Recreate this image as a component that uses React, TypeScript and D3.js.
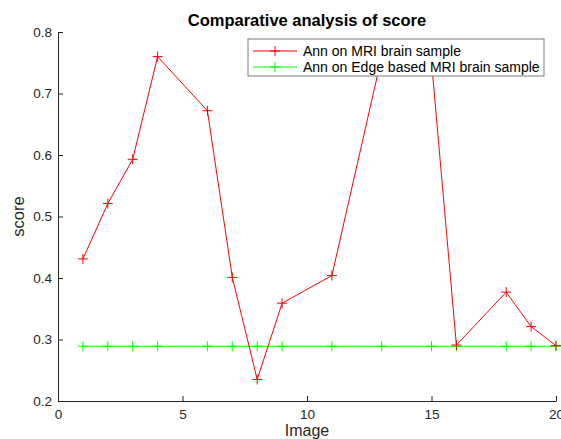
import { useEffect, useRef } from "react";
import * as d3 from "d3";

const images = [1, 2, 3, 4, 6, 7, 8, 9, 11, 13, 15, 16, 18, 19, 20];
const annScores = [0.431, 0.521, 0.593, 0.76, 0.672, 0.401, 0.235, 0.359, 0.404, 0.76, 0.752, 0.291, 0.377, 0.321, 0.29];
const edgeScores = [0.289, 0.289, 0.289, 0.289, 0.289, 0.289, 0.289, 0.289, 0.289, 0.289, 0.289, 0.289, 0.289, 0.289, 0.289];
const xTicks = [0, 5, 10, 15, 20];
const yTicks = [0.2, 0.3, 0.4, 0.5, 0.6, 0.7, 0.8];
const seriesNames = ["Ann on MRI brain sample", "Ann on Edge based MRI brain sample"];

export default function App() {
    const ref = useRef<SVGSVGElement>(null);

    useEffect(() => {
        if (!ref.current) return;
        const svg = d3.select(ref.current);
        svg.selectAll("*").remove();

        const margin = { top: 32, right: 5, bottom: 38, left: 58 };
        const width = 561 - margin.left - margin.right;
        const height = 439 - margin.top - margin.bottom;
        const font = "'Liberation Sans', Arial, sans-serif";
        const axisColor = "#262626";

        const x = d3.scaleLinear().domain([0, 20]).range([0, width]);
        const y = d3.scaleLinear().domain([0.2, 0.8]).range([height, 0]);

        const g = svg.append("g").attr("transform", `translate(${margin.left},${margin.top})`);

        // axes, ticks drawn inward like matlab
        const xAxis = d3.axisBottom(x).tickValues(xTicks).tickSize(-5).tickSizeOuter(0).tickPadding(8).tickFormat(d3.format("d"));
        const yAxis = d3.axisLeft(y).tickValues(yTicks).tickSize(-5).tickSizeOuter(0).tickPadding(6).tickFormat(d3.format(".1f"));

        const gx = g.append("g").attr("transform", `translate(0,${height})`).call(xAxis);
        const gy = g.append("g").call(yAxis);
        [gx, gy].forEach((a) => {
            a.select(".domain").attr("stroke", axisColor);
            a.selectAll("line").attr("stroke", axisColor);
            a.selectAll("text").attr("fill", axisColor).attr("font-size", "13.5px").attr("font-family", font);
        });

        const line = d3.line<number>()
            .x((_, i) => x(images[i]))
            .y((d) => y(d));

        const drawSeries = (vals: number[], color: string) => {
            g.append("path")
                .datum(vals)
                .attr("fill", "none")
                .attr("stroke", color)
                .attr("stroke-width", 1)
                .attr("d", line);
            g.append("g")
                .selectAll("path")
                .data(vals)
                .join("path")
                .attr("d", (d, i) => {
                    const cx = x(images[i]);
                    const cy = y(d);
                    return `M${cx - 5},${cy}H${cx + 5}M${cx},${cy - 5}V${cy + 5}`;
                })
                .attr("stroke", color)
                .attr("stroke-width", 1);
        };

        drawSeries(edgeScores, "#00ff00");
        drawSeries(annScores, "#ff0000");

        // title and labels
        svg.append("text")
            .attr("x", margin.left + width / 2)
            .attr("y", 26)
            .attr("text-anchor", "middle")
            .attr("font-family", font)
            .attr("font-weight", "bold")
            .attr("font-size", "16.5px")
            .attr("fill", "#000")
            .text("Comparative analysis of score");

        svg.append("text")
            .attr("x", margin.left + width / 2)
            .attr("y", 436)
            .attr("text-anchor", "middle")
            .attr("font-family", font)
            .attr("font-size", "16px")
            .attr("fill", axisColor)
            .text("Image");

        svg.append("text")
            .attr("transform", `translate(24,${margin.top + height / 2}) rotate(-90)`)
            .attr("text-anchor", "middle")
            .attr("font-family", font)
            .attr("font-size", "16.5px")
            .attr("fill", axisColor)
            .text("score");

        // legend
        const legend = svg.append("g").attr("transform", "translate(248,39)");
        legend.append("rect")
            .attr("width", 296)
            .attr("height", 37)
            .attr("fill", "#fff")
            .attr("stroke", "#7a7a7a")
            .attr("stroke-width", 1);
        const colors = ["#ff0000", "#00ff00"];
        seriesNames.forEach((name, i) => {
            const ly = 12 + i * 16;
            legend.append("line")
                .attr("x1", 5).attr("x2", 49)
                .attr("y1", ly).attr("y2", ly)
                .attr("stroke", colors[i]);
            legend.append("path")
                .attr("d", `M22,${ly}H32M27,${ly - 5}V${ly + 5}`)
                .attr("stroke", colors[i]);
            legend.append("text")
                .attr("x", 55)
                .attr("y", ly + 5)
                .attr("font-family", font)
                .attr("font-size", "14px")
                .attr("fill", "#000")
                .text(name);
        });
    }, []);

    return (
        <div>
            <svg ref={ref} width={561} height={439} style={{ display: "block", position: "absolute", left: 0, top: 0 }}></svg>
        </div>
    );
}
